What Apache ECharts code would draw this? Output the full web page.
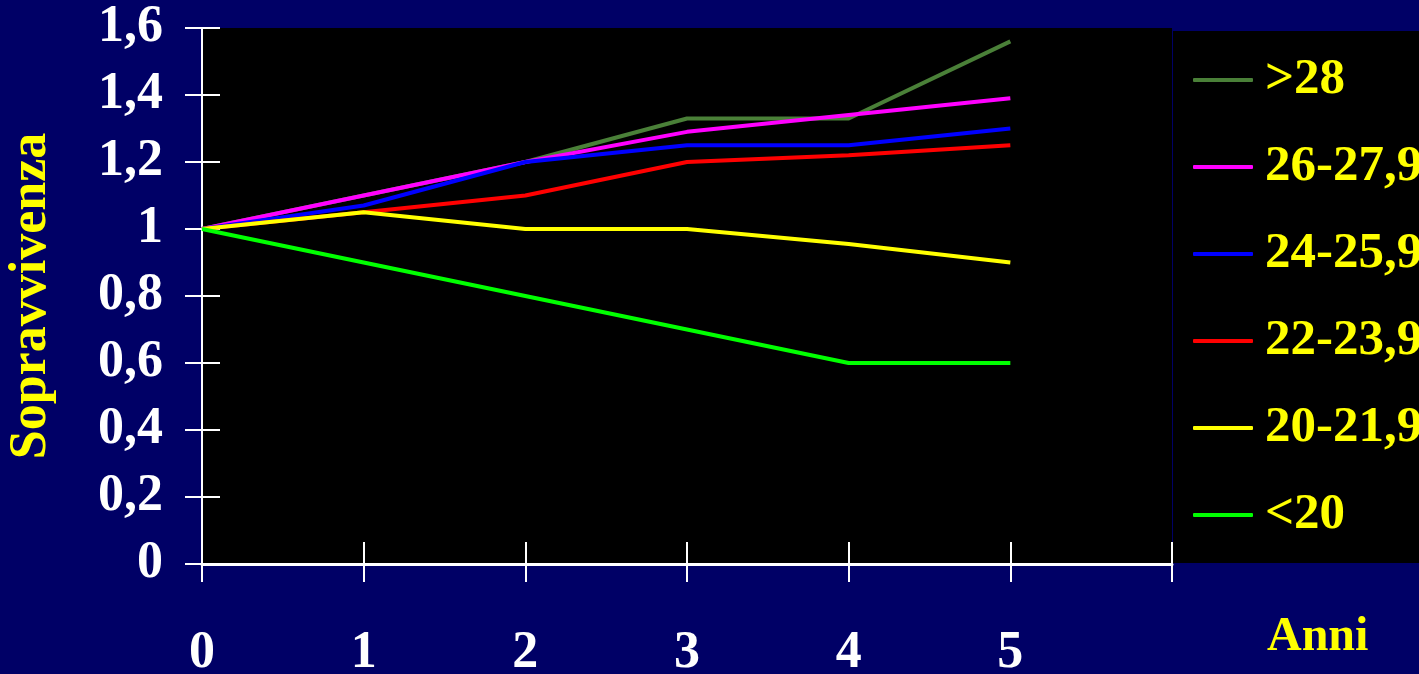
<!DOCTYPE html>
<html>
<head>
<meta charset="utf-8">
<script src="https://cdn.jsdelivr.net/npm/echarts@6/dist/echarts.min.js"></script>
<style>
html,body{margin:0;padding:0;background:#000066;}
#chart{width:1419px;height:674px;}
</style>
</head>
<body>
<div id="chart"></div>
<script>
const years = [0, 1, 2, 3, 4, 5];
const seriesNames = ['>28', '26-27,9', '24-25,9', '22-23,9', '20-21,9', '<20'];
const over28 = [1, 1.1, 1.2, 1.33, 1.33, 1.56];
const bmi26 = [1, 1.1, 1.2, 1.29, 1.34, 1.39];
const bmi24 = [1, 1.07, 1.2, 1.25, 1.25, 1.3];
const bmi22 = [1, 1.05, 1.1, 1.2, 1.22, 1.25];
const bmi20 = [1, 1.05, 1.0, 1.0, 0.955, 0.9];
const under20 = [1, 0.9, 0.8, 0.7, 0.6, 0.6];
const yTicks = ['0', '0,2', '0,4', '0,6', '0,8', '1', '1,2', '1,4', '1,6'];
const xTicks = ['0', '1', '2', '3', '4', '5', ''];

const colors = ['#4a8038', '#ff00ff', '#0000ff', '#ff0000', '#ffff00', '#00ff00'];
const allValues = [over28, bmi26, bmi24, bmi22, bmi20, under20];
const font = '"Liberation Serif", "Times New Roman", serif';

const chart = echarts.init(document.getElementById('chart'));
chart.setOption({
  animation: false,
  backgroundColor: '#000066',
  graphic: [{
    type: 'rect', z: 1,
    shape: { x: 1173, y: 31, width: 246, height: 532 },
    style: { fill: '#000000' }
  }],
  grid: {
    left: 202, right: 247, top: 28, bottom: 110,
    containLabel: false, outerBoundsMode: 'none',
    show: true, backgroundColor: '#000000', borderWidth: 0
  },
  legend: {
    orient: 'vertical', left: 1193, top: 54, z: 5, padding: 0,
    icon: 'roundRect', itemWidth: 60, itemHeight: 4, itemGap: 35,
    data: seriesNames,
    textStyle: { color: '#ffff00', fontSize: 51, fontWeight: 'bold', fontFamily: font, lineHeight: 52, padding: [0, 0, 0, 7] }
  },
  xAxis: [{
    type: 'value', min: 0, max: 6, interval: 1, position: 'bottom',
    name: 'Anni', nameLocation: 'end', nameGap: 95,
    nameTextStyle: { color: '#ffff00', fontSize: 48, fontWeight: 'bold', fontFamily: font, align: 'left', verticalAlign: 'top', padding: [50, 0, 0, 0] },
    axisLine: { show: true, lineStyle: { color: '#ffffff', width: 3 } },
    axisTick: { show: true, inside: false, length: 18, lineStyle: { color: '#ffffff', width: 2 } },
    axisLabel: { margin: 64, color: '#ffffff', fontSize: 52, fontWeight: 'bold', fontFamily: font, lineHeight: 52,
      formatter: function (v) { return xTicks[Math.round(v)]; } },
    splitLine: { show: false }
  }, {
    type: 'value', min: 0, max: 6, interval: 1, position: 'bottom',
    axisLine: { show: false },
    axisTick: { show: true, inside: true, length: 22, lineStyle: { color: '#ffffff', width: 2 } },
    axisLabel: { show: false },
    splitLine: { show: false }
  }],
  yAxis: [{
    type: 'value', min: 0, max: 1.6, interval: 0.2, position: 'left',
    name: 'Sopravvivenza', nameLocation: 'middle', nameGap: 144,
    nameTextStyle: { color: '#ffff00', fontSize: 52, fontWeight: 'bold', fontFamily: font, lineHeight: 52 },
    axisLine: { show: true, lineStyle: { color: '#ffffff', width: 2 } },
    axisTick: { show: true, inside: false, length: 17, lineStyle: { color: '#ffffff', width: 2 } },
    axisLabel: { margin: 39, color: '#ffffff', fontSize: 52, fontWeight: 'bold', fontFamily: font, lineHeight: 52,
      formatter: function (v) { return yTicks[Math.round(v * 5)]; } },
    splitLine: { show: false }
  }, {
    type: 'value', min: 0, max: 1.6, interval: 0.2, position: 'left',
    axisLine: { show: false },
    axisTick: { show: true, inside: true, length: 18, lineStyle: { color: '#ffffff', width: 2 } },
    axisLabel: { show: false },
    splitLine: { show: false }
  }],
  series: seriesNames.map(function (name, i) {
    return {
      name: name, type: 'line', xAxisIndex: 0, yAxisIndex: 0,
      symbol: 'none', z: 2 + i,
      lineStyle: { color: colors[i], width: 4 },
      itemStyle: { color: colors[i] },
      data: years.map(function (y, j) { return [y, allValues[i][j]]; })
    };
  })
});
</script>
</body>
</html>
